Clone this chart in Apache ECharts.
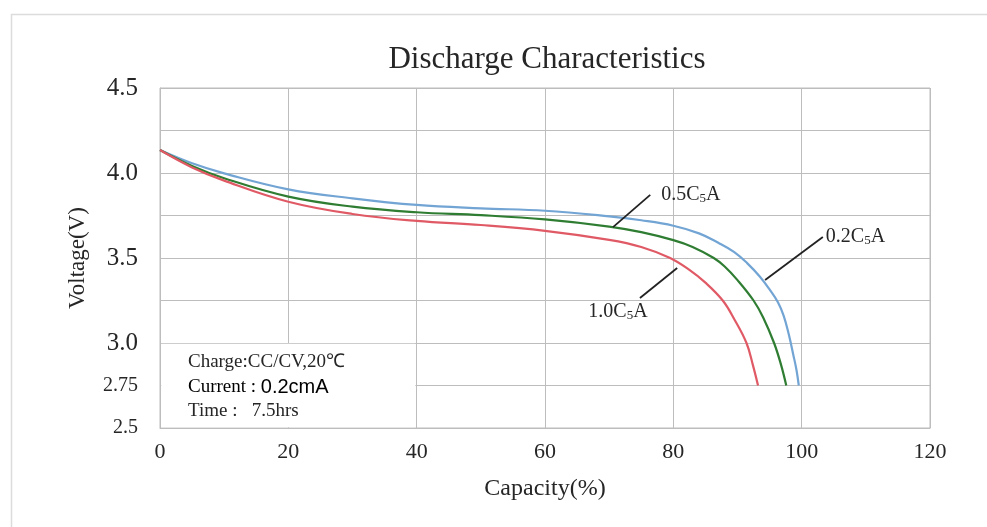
<!DOCTYPE html>
<html>
<head>
<meta charset="utf-8">
<script src="https://cdn.jsdelivr.net/npm/echarts@6/dist/echarts.min.js"></script>
<style>html,body{margin:0;padding:0;background:#fff}#c{width:987px;height:527px}</style>
</head>
<body>
<div id="c"></div>
<script>
// ---- data ----
const seriesNames = ['0.2C5A', '0.5C5A', '1.0C5A'];
const capacity02 = [0, 5, 10, 20, 30, 40, 50, 60, 70, 75, 80, 84, 87, 89.5, 91.5, 93.5, 95, 96.3, 97.2, 98.0, 98.7, 99.2, 99.55];
const voltage02  = [4.135, 4.057, 3.998, 3.904, 3.851, 3.812, 3.792, 3.778, 3.745, 3.722, 3.69, 3.645, 3.59, 3.535, 3.47, 3.39, 3.315, 3.24, 3.16, 3.05, 2.93, 2.84, 2.75];
const capacity05 = [0, 5, 10, 20, 30, 40, 50, 60, 70, 75, 80, 83, 86.3, 88, 90, 92.5, 94, 95.7, 96.8, 97.6];
const voltage05  = [4.135, 4.041, 3.969, 3.861, 3.802, 3.769, 3.752, 3.727, 3.685, 3.652, 3.605, 3.565, 3.5, 3.45, 3.37, 3.25, 3.15, 3.0, 2.87, 2.75];
const capacity10 = [0, 5, 10, 20, 30, 40, 50, 60, 70, 75, 79.5, 82.5, 85, 87.7, 89.5, 91.4, 92.4, 93.2];
const voltage10  = [4.135, 4.033, 3.955, 3.831, 3.759, 3.718, 3.694, 3.66, 3.607, 3.565, 3.5, 3.43, 3.355, 3.25, 3.14, 3.0, 2.87, 2.75];
const yTickLabels = {'4.5': '4.5', '4': '4.0', '3.5': '3.5', '3': '3.0', '2.75': '2.75', '2.5': '2.5'};
const xTickLabels = ['0', '20', '40', '60', '80', '100', '120'];
const noteLines = ['Charge:CC/CV,20℃', 'Current : ', '0.2cmA', 'Time :   7.5hrs'];
// annotation pointers: [labelAnchor, curvePoint]
const pointer05 = [[76.4, 3.871], [70.6, 3.682]];
const pointer02 = [[103.3, 3.624], [94.3, 3.371]];
const pointer10 = [[80.6, 3.441], [74.8, 3.265]];

const zip = (a, b) => a.map((x, i) => [x, b[i]]);
const serif = 'Liberation Serif';
const gridColor = '#bdbdbd';
const textColor = '#262626';

function rateLabel(name) {
  return '{n|' + name.slice(0, 4) + '}{s|' + name.slice(4, 5) + '}{n|' + name.slice(5) + '}';
}
const richRate = {
  n: {fontFamily: serif, fontSize: 20, color: textColor},
  s: {fontFamily: serif, fontSize: 13, color: textColor, verticalAlign: 'bottom', padding: [6, 0, 0, 0]}
};

function pointerLine(p) {
  return {
    silent: true, symbol: ['none', 'none'], animation: false,
    lineStyle: {color: '#222', width: 1.8, type: 'solid'},
    label: {show: false},
    data: [[{coord: p[0]}, {coord: p[1]}]]
  };
}

const chart = echarts.init(document.getElementById('c'), null, {renderer: 'canvas'});
chart.setOption({
  animation: false,
  backgroundColor: '#fff',
  title: {
    text: 'Discharge Characteristics',
    left: 542, top: 39, textAlign: 'center',
    textStyle: {fontFamily: serif, fontSize: 31, fontWeight: 'normal', color: textColor}
  },
  graphic: [
    {type: 'rect', left: 9, top: 12, z: 100, shape: {width: 1000, height: 600},
     style: {fill: 'none', stroke: '#dcdcdc', lineWidth: 1.5}, silent: true},
    {type: 'text', left: 188, top: 353, z: 100, style: {text: noteLines[0], font: '19px "Liberation Serif"', fill: textColor}},
    {type: 'text', left: 188, top: 377, z: 100, style: {
      text: '{a|' + noteLines[1] + '}{b|' + noteLines[2] + '}',
      rich: {a: {fontFamily: serif, fontSize: 19, color: textColor},
             b: {fontFamily: 'Liberation Sans', fontSize: 20, color: textColor}}}},
    {type: 'text', left: 188, top: 402, z: 100, style: {text: noteLines[3], font: '19px "Liberation Serif"', fill: textColor}}
  ],
  grid: {left: 160, right: 57, top: 88, bottom: 99, show: true, borderColor: gridColor, borderWidth: 1},
  xAxis: {
    type: 'value', min: 0, max: 120, interval: 20,
    name: 'Capacity(%)', nameLocation: 'middle', nameGap: 49,
    nameTextStyle: {fontFamily: serif, fontSize: 24, color: textColor},
    axisLine: {show: true, lineStyle: {color: gridColor}},
    axisTick: {show: false},
    axisLabel: {fontFamily: serif, fontSize: 22, color: textColor, margin: 13,
      formatter: (v) => xTickLabels[Math.round(v / 20)]},
    splitLine: {show: true, lineStyle: {color: gridColor, width: 1}}
  },
  yAxis: {
    type: 'value', min: 2.5, max: 4.5, interval: 0.25,
    name: 'Voltage(V)', nameLocation: 'middle', nameGap: 71, nameRotate: 90,
    nameTextStyle: {fontFamily: serif, fontSize: 23, color: textColor},
    axisLine: {show: true, lineStyle: {color: gridColor}},
    axisTick: {show: false},
    axisLabel: {
      fontFamily: serif, fontSize: 25, color: textColor, margin: 22,
      formatter: (v) => {
        const k = String(+v.toFixed(2));
        const t = yTickLabels[k];
        if (!t) return '';
        return (k === '2.75' || k === '2.5') ? '{s|' + t + '}' : t;
      },
      rich: {s: {fontFamily: serif, fontSize: 20, color: textColor}}
    },
    splitLine: {show: true, lineStyle: {color: gridColor, width: 1}}
  },
  series: [
    {
      name: seriesNames[0], type: 'line', data: zip(capacity02, voltage02),
      showSymbol: false, smooth: 0.4,
      lineStyle: {color: '#72a4d4', width: 2.2}, itemStyle: {color: '#72a4d4'}, z: 3,
      markArea: {
        silent: true,
        itemStyle: {color: '#ffffff'},
        data: [[{coord: [0.2, 2.505]}, {coord: [39.8, 2.995]}]]
      },
      markLine: pointerLine(pointer02),
      markPoint: {
        symbol: 'circle', symbolSize: 0, silent: true,
        label: {show: true, position: 'right', distance: 3, formatter: rateLabel(seriesNames[0]), rich: richRate},
        data: [{coord: pointer02[0]}]
      }
    },
    {
      name: seriesNames[1], type: 'line', data: zip(capacity05, voltage05),
      showSymbol: false, smooth: 0.4,
      lineStyle: {color: '#2f7d32', width: 2.2}, itemStyle: {color: '#2f7d32'}, z: 3,
      markLine: pointerLine(pointer05),
      markPoint: {
        symbol: 'circle', symbolSize: 0, silent: true,
        label: {show: true, position: 'right', distance: 11, formatter: rateLabel(seriesNames[1]), rich: richRate},
        data: [{coord: pointer05[0]}]
      }
    },
    {
      name: seriesNames[2], type: 'line', data: zip(capacity10, voltage10),
      showSymbol: false, smooth: 0.4,
      lineStyle: {color: '#e05a66', width: 2.2}, itemStyle: {color: '#e05a66'}, z: 3,
      markLine: pointerLine(pointer10),
      markPoint: {
        symbol: 'circle', symbolSize: 0, silent: true,
        label: {show: true, position: 'bottom', distance: 4, offset: [-22, 0], formatter: rateLabel(seriesNames[2]), rich: richRate},
        data: [{coord: pointer10[1]}]
      }
    }
  ]
});
</script>
</body>
</html>
